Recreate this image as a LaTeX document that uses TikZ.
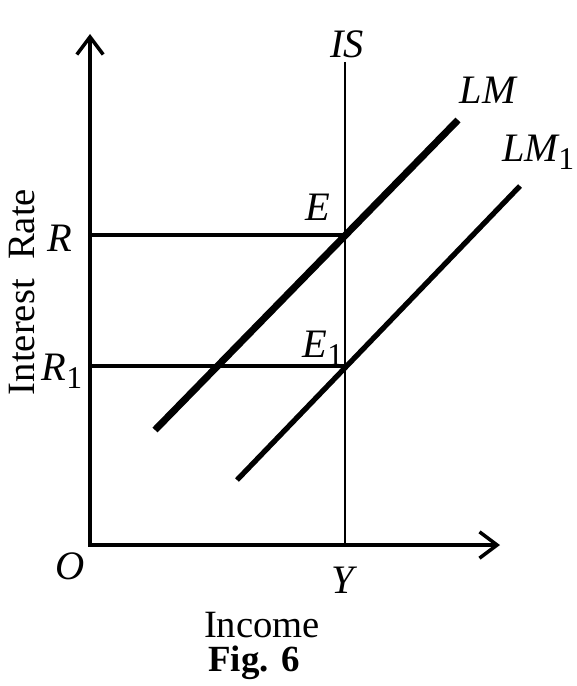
\documentclass[tikz,border=0pt]{standalone}
\usepackage{fontspec}
\setmainfont{Liberation Serif}
\usetikzlibrary{arrows.meta}

\begin{document}
\begin{tikzpicture}[x=0.02cm,y=-0.02cm,
  lbl/.style={font=\fontsize{23}{26}\selectfont\itshape},
  txt/.style={font=\fontsize{22}{26}\selectfont},
  axis/.style={line width=2.6pt,{Straight Barb[length=10pt,width=15pt,line width=2pt]}-{Straight Barb[length=10pt,width=15pt,line width=2pt]}}]
  \useasboundingbox (0,0) rectangle (576,686);
  % axes
  \coordinate (O) at (90,545);
  \coordinate (ytip) at (90,34);
  \coordinate (xtip) at (500,545);
  \draw[axis,line join=miter] (ytip) -- (O) -- (xtip);
  % IS curve
  \coordinate (IStop) at (345,62);
  \coordinate (Y) at (345,545);
  \draw[line width=1pt] (IStop) -- (Y);
  % equilibria and rates
  \coordinate (E) at (345,235);
  \coordinate (E1) at (345,366);
  \coordinate (R) at (90,235);
  \coordinate (R1) at (90,366);
  \draw[line width=2.6pt] (R) -- (E);
  \draw[line width=2.6pt] (R1) -- (E1);
  % LM curves
  \coordinate (LMlo) at (155,430);
  \coordinate (LMhi) at (458,120);
  \coordinate (LMonelo) at (237,480);
  \coordinate (LMonehi) at (520,186);
  \draw[line width=4pt] (LMlo) -- (LMhi);
  \draw[line width=3pt] (LMonelo) -- (LMonehi);
  % labels
  \node[lbl] (lIS) at (347,44) {IS};
  \node[lbl] (lLM) at (488,90) {LM};
  \node[lbl,anchor=west,inner sep=0pt] (lLMone) at (502,152) {LM\raisebox{-0.45ex}{\upshape\fontsize{18}{18}\selectfont 1}};
  \node[lbl] (lR) at (60,238) {R};
  \node[lbl] (lRone) at (62,371) {R\raisebox{-0.45ex}{\upshape\fontsize{18}{18}\selectfont 1}};
  \node[lbl] (lE) at (318,207) {E};
  \node[lbl] (lEone) at (323,348) {E\raisebox{-0.45ex}{\upshape\fontsize{18}{18}\selectfont 1}};
  \node[lbl] (lO) at (70,566) {O};
  \node[lbl] (lY) at (343,580) {Y};
  \node[txt,rotate=90] (lrate) at (22,292) {Interest \ Rate};
  \node[txt] (lincome) at (262,625) {Income};
  \node[txt,font=\fontsize{21}{24}\selectfont\bfseries] (lfig) at (254,663) {Fig. 6};
\end{tikzpicture}
\end{document}
